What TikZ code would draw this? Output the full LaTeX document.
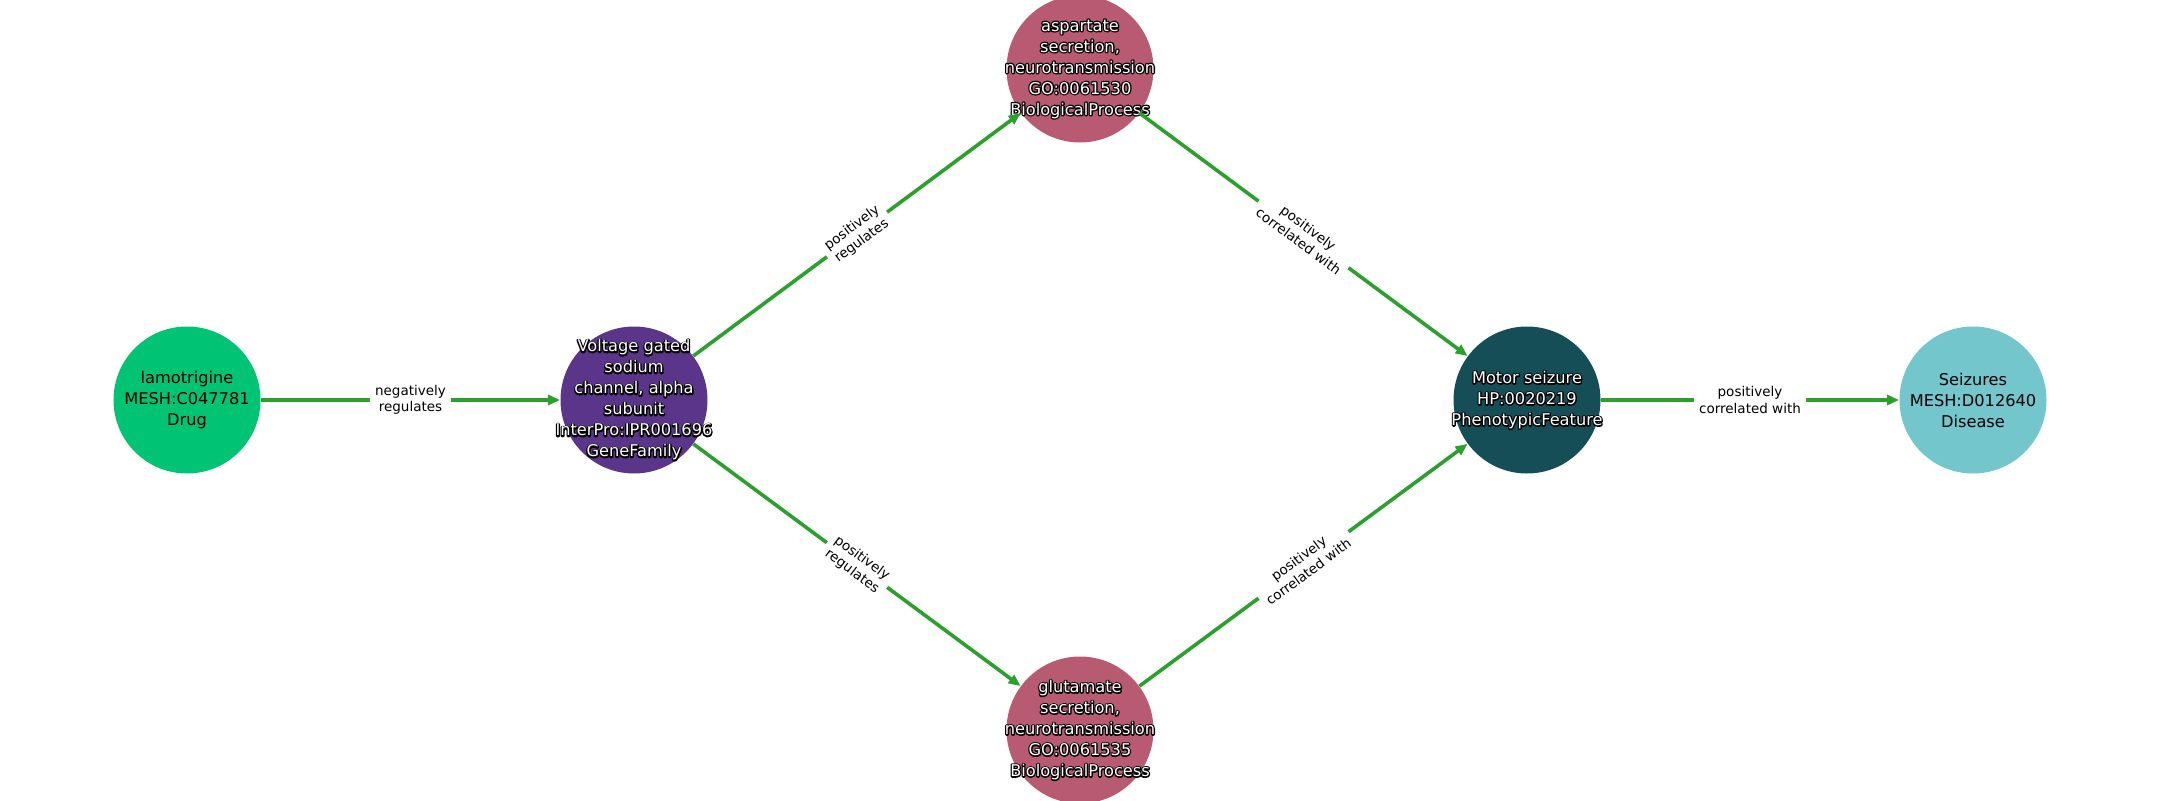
\documentclass[tikz,border=0pt]{standalone}
\usepackage{fontspec}
\setmainfont{DejaVu Sans}
\usetikzlibrary{arrows.meta}
\definecolor{drug}{RGB}{0,196,115}
\definecolor{genefam}{RGB}{91,53,138}
\definecolor{bioproc}{RGB}{184,90,114}
\definecolor{pheno}{RGB}{21,78,86}
\definecolor{disease}{RGB}{114,198,204}
\definecolor{edgegreen}{RGB}{44,160,44}
\newcommand{\nodefont}{\fontsize{8.1}{10.5}\selectfont}
\newcommand{\edgefont}{\fontsize{6.75}{8.2}\selectfont}
% white text with a black outline: stroked copy under a filled one
\newcommand{\wl}[1]{\rlap{\special{pdf:literal direct 1 Tr 0 G 1.3 w 1 j}#1\special{pdf:literal direct 0 Tr}}#1}
\tikzset{
  >={Triangle[length=6pt, width=5pt]},
  ent/.style={circle, inner sep=0pt, minimum size=73.5pt, fill=#1},
  wtxt/.style={text=white, align=center, font=\nodefont},
  btxt/.style={text=black, align=center, font=\nodefont},
  edge/.style={->, draw=edgegreen, line width=1.8pt},
  elab/.style={midway, sloped, fill=white, inner sep=2.5pt, align=center, font=\edgefont},
}

\begin{document}
\begin{tikzpicture}[x=0.5pt, y=0.5pt]
  \useasboundingbox (0,0) rectangle (2160,800);
  \clip (0,0) rectangle (2160,800);

  \node[ent=drug, label={[btxt]center:{lamotrigine\\MESH:C047781\\Drug}}] (lamo) at (187,400) {};
  \node[ent=genefam, label={[wtxt]center:{\wl{Voltage gated}\\\wl{sodium}\\\wl{channel, alpha}\\\wl{subunit}\\\wl{InterPro:IPR001696}\\\wl{GeneFamily}}}] (navc) at (634,400) {};
  \node[ent=bioproc, label={[wtxt]center:{\wl{aspartate}\\\wl{secretion,}\\\wl{neurotransmission}\\\wl{GO:0061530}\\\wl{BiologicalProcess}}}] (asp) at (1080,731) {};
  \node[ent=bioproc, label={[wtxt]center:{\wl{glutamate}\\\wl{secretion,}\\\wl{neurotransmission}\\\wl{GO:0061535}\\\wl{BiologicalProcess}}}] (glu) at (1080,70) {};
  \node[ent=pheno, label={[wtxt]center:{\wl{Motor seizure}\\\wl{HP:0020219}\\\wl{PhenotypicFeature}}}] (mot) at (1527,400) {};
  \node[ent=disease, label={[btxt]center:{Seizures\\MESH:D012640\\Disease}}] (seiz) at (1973,400) {};

  \draw[edge] (lamo) -- node[elab] {negatively\\regulates} (navc);
  \draw[edge] (navc) -- node[elab] {positively\\regulates} (asp);
  \draw[edge] (navc) -- node[elab] {positively\\regulates} (glu);
  \draw[edge] (asp) -- node[elab] {positively\\correlated with} (mot);
  \draw[edge] (glu) -- node[elab] {positively\\correlated with} (mot);
  \draw[edge] (mot) -- node[elab] {positively\\correlated with} (seiz);
\end{tikzpicture}
\end{document}
